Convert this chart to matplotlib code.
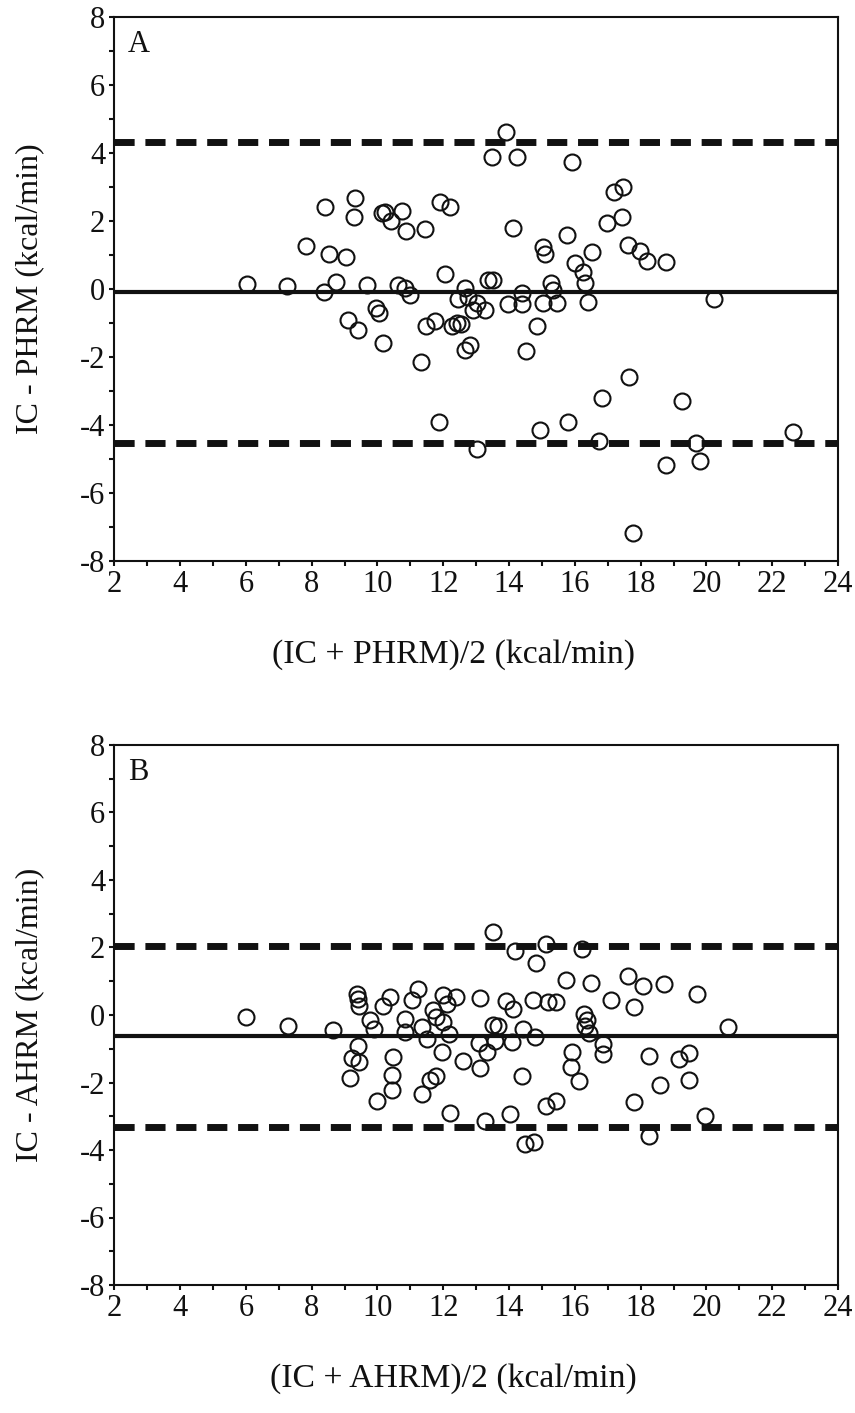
import matplotlib
matplotlib.use("Agg")
import matplotlib.pyplot as plt
from matplotlib.ticker import MultipleLocator

plt.rcParams['font.family'] = ['Liberation Serif', 'DejaVu Serif']
plt.rcParams['axes.unicode_minus'] = False

# Panel A: IC vs PHRM (Bland-Altman)
a_mean = [6.02, 7.26, 7.82, 8.40, 8.37, 8.53, 8.74, 9.04, 9.32, 9.29, 9.11, 9.42,
          9.67, 9.95, 10.05, 10.16, 10.13, 10.23, 10.40, 10.74, 10.87, 11.44,
          10.63, 10.84, 10.99, 12.05, 11.90, 12.21, 11.47, 11.75, 11.31, 12.66,
          12.44, 12.76, 13.02, 12.91, 13.27, 12.26, 12.41, 12.53, 12.66, 12.81,
          13.37, 13.52, 14.11, 13.97, 14.38, 14.38, 14.51, 14.86, 15.02, 15.04,
          15.09, 15.29, 15.33, 15.45, 15.75, 13.91, 13.47, 14.25, 15.90, 17.19,
          17.47, 16.97, 17.42, 16.51, 17.62, 17.98, 18.18, 18.77, 16.00, 16.24,
          16.31, 16.41, 20.22, 17.64, 16.82, 19.25, 11.88, 13.03, 14.94, 15.80,
          16.74, 18.77, 17.78, 19.68, 19.81, 22.63]
a_diff = [0.13, 0.09, 1.26, 2.41, -0.11, 1.02, 0.21, 0.92, 2.66, 2.12, -0.92, -1.21,
          0.11, -0.58, -0.72, -1.59, 2.22, 2.26, 2.00, 2.29, 1.70, 1.75,
          0.11, 0.01, -0.19, 0.43, 2.56, 2.39, -1.10, -0.94, -2.15, 0.01,
          -0.31, -0.24, -0.41, -0.63, -0.63, -1.10, -1.00, -1.04, -1.80, -1.66,
          0.26, 0.26, 1.79, -0.45, -0.14, -0.45, -1.82, -1.09, -0.41, 1.24,
          1.02, 0.18, -0.04, -0.41, 1.58, 4.60, 3.88, 3.88, 3.72, 2.85,
          3.00, 1.92, 2.12, 1.07, 1.29, 1.12, 0.82, 0.78, 0.77, 0.50,
          0.16, -0.40, -0.31, -2.59, -3.20, -3.30, -3.91, -4.71, -4.16, -3.91,
          -4.48, -5.19, -7.18, -4.54, -5.07, -4.21]
a_bias = -0.09
a_limits = [4.31, -4.54]

# Panel B: IC vs AHRM (Bland-Altman)
b_mean = [5.99, 7.29, 8.66, 9.37, 9.42, 9.45, 9.42, 9.22, 9.45, 9.18, 9.77, 9.89,
          10.18, 10.38, 10.48, 10.43, 10.43, 9.99, 10.84, 10.84, 11.04, 11.24,
          11.34, 11.50, 11.34, 11.60, 11.78, 11.70, 11.78, 12.00, 12.10, 12.00,
          12.18, 12.39, 11.95, 12.59, 12.22, 13.12, 13.09, 13.34, 13.12, 13.50,
          13.67, 13.57, 13.50, 13.27, 13.91, 14.11, 14.08, 14.03, 14.38, 14.43,
          14.74, 14.79, 14.18, 14.48, 14.76, 14.82, 15.12, 15.19, 15.43, 15.12,
          15.43, 15.73, 15.90, 15.87, 16.21, 16.48, 17.62, 18.06, 18.71, 19.72,
          17.09, 17.80, 16.28, 16.38, 16.31, 16.44, 16.86, 16.86, 16.13, 18.26,
          19.17, 19.48, 18.59, 19.48, 17.80, 19.95, 18.26, 20.66]
b_diff = [-0.06, -0.32, -0.45, 0.63, 0.48, 0.28, -0.91, -1.28, -1.38, -1.87, -0.16, -0.40,
          0.26, 0.53, -1.24, -1.77, -2.21, -2.54, -0.11, -0.50, 0.43, 0.77,
          -0.35, -0.70, -2.34, -1.92, -1.82, 0.14, -0.06, 0.58, 0.33, -0.21,
          -0.55, 0.53, -1.09, -1.36, -2.90, 0.50, -0.84, -1.09, -1.58, -0.30,
          -0.32, -0.77, 2.46, -3.15, 0.40, 0.19, -0.81, -2.93, -1.82, -0.40,
          0.43, -0.65, 1.90, -3.83, -3.76, 1.53, 2.10, 0.38, 0.38, -2.71,
          -2.54, 1.04, -1.09, -1.53, 1.95, 0.95, 1.17, 0.85, 0.92, 0.63,
          0.45, 0.25, 0.04, -0.16, -0.32, -0.52, -0.87, -1.17, -1.97, -1.21,
          -1.31, -1.14, -2.07, -1.94, -2.58, -3.00, -3.59, -0.35]
b_bias = -0.63
b_limits = [2.05, -3.31]

panels = [
    ("A", a_mean, a_diff, a_bias, a_limits,
     "(IC + PHRM)/2 (kcal/min)", "IC - PHRM (kcal/min)"),
    ("B", b_mean, b_diff, b_bias, b_limits,
     "(IC + AHRM)/2 (kcal/min)", "IC - AHRM (kcal/min)"),
]

W, H = 855, 1413
fig = plt.figure(figsize=(W / 100, H / 100), dpi=100)

# axes boxes in pixels: left, top, right, bottom
boxes = [(114.3, 16.7, 838, 560.7), (114.3, 745, 838, 1285)]

ink = "#111111"
for (tag, xm, yd, bias, lims, xlab, ylab), (l, t, r, b) in zip(panels, boxes):
    ax = fig.add_axes([l / W, 1 - b / H, (r - l) / W, (b - t) / H])
    ax.set_xlim(2, 24)
    ax.set_ylim(-8, 8)
    ax.xaxis.set_major_locator(MultipleLocator(2))
    ax.xaxis.set_minor_locator(MultipleLocator(1))
    ax.yaxis.set_major_locator(MultipleLocator(2))
    ax.yaxis.set_minor_locator(MultipleLocator(1))
    ax.tick_params(which='both', direction='out', length=3.5, width=1.5,
                   color=ink, labelsize=22, labelcolor=ink, pad=3)
    for s in ax.spines.values():
        s.set_linewidth(1.5)
        s.set_color(ink)

    ax.axhline(bias, color=ink, lw=3.0, zorder=2)
    for lim in lims:
        ax.axhline(lim, color=ink, lw=5.0, dashes=(2.9, 1.55), zorder=2)
    ax.plot(xm, yd, linestyle='none', marker='o', markersize=11.5,
            markerfacecolor='none', markeredgecolor=ink, markeredgewidth=1.5,
            zorder=3)

    ax.text(0.019, 0.975, tag, transform=ax.transAxes, fontsize=22,
            color=ink, ha='left', va='top')
    ax.set_xlabel(xlab, fontsize=24.3, color=ink)
    ax.set_ylabel(ylab, fontsize=23, color=ink)
    ax.xaxis.set_label_coords(0.469, -0.173)
    ax.yaxis.set_label_coords(-0.1165, 0.5)
    ax.xaxis.label.set_va('center')
    ax.yaxis.label.set_va('center')

fig.savefig("out.png", dpi=100, facecolor='white')
